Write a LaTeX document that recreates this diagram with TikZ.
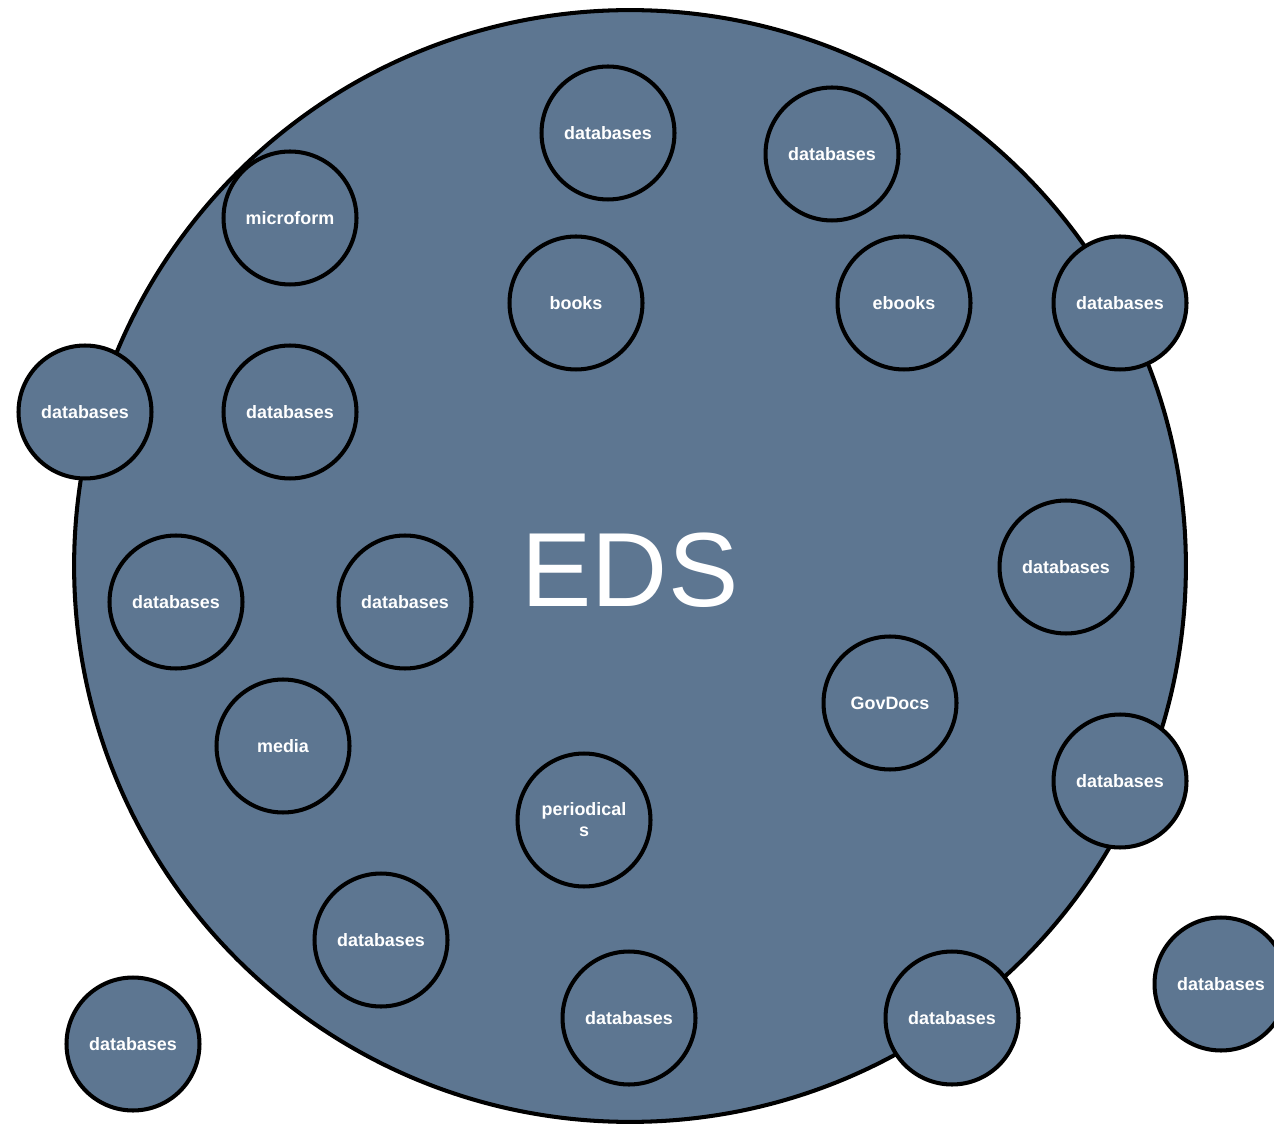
\documentclass[tikz,border=0pt]{standalone}
\usepackage{fontspec}
\setmainfont{Liberation Sans}
\definecolor{EdsClr}{rgb}{0.365,0.463,0.569}

\tikzset{
  eds/.style={circle,draw=black,line width=2.3pt,fill=EdsClr},
  src/.style={circle,draw=black,line width=2.3pt,fill=EdsClr,minimum size=2.66cm,inner sep=0pt,
    text=white,font=\fontsize{10.2}{12}\selectfont\bfseries,align=center}
}

\begin{document}
\begin{tikzpicture}[x=0.02cm,y=-0.02cm]
\useasboundingbox (0,0) rectangle (1274,1124);

% Step 1. the big circle
\node[eds,minimum size=22.24cm] (EDS) at (630,566) {};
\node[text=white,font=\fontsize{60}{60}\selectfont] (EDSlbl) at (630,570) {EDS};

% Step 2. sources inside
\node[src] (dbA) at (608,133) {databases};
\node[src] (dbB) at (832,154) {databases};
\node[src] (micro) at (290,218) {microform};
\node[src] (books) at (576,303) {books};
\node[src] (ebooks) at (904,303) {ebooks};
\node[src] (dbD) at (290,412) {databases};
\node[src] (dbE) at (1066,567) {databases};
\node[src] (dbF) at (176,602) {databases};
\node[src] (dbG) at (405,602) {databases};
\node[src] (govdocs) at (890,703) {GovDocs};
\node[src] (media) at (283,746) {media};
\node[src] (period) at (584,820) {periodical\\s};
\node[src] (dbH) at (381,940) {databases};
\node[src] (dbI) at (629,1018) {databases};

% Step 3. sources on the rim
\node[src] (dbC) at (1120,303) {databases};
\node[src] (dbL) at (85,412) {databases};
\node[src] (dbR) at (1120,781) {databases};
\node[src] (dbJ) at (952,1018) {databases};

% Step 4. sources outside
\node[src] (dbK) at (1221,984) {databases};
\node[src] (dbM) at (133,1044) {databases};

\end{tikzpicture}
\end{document}
